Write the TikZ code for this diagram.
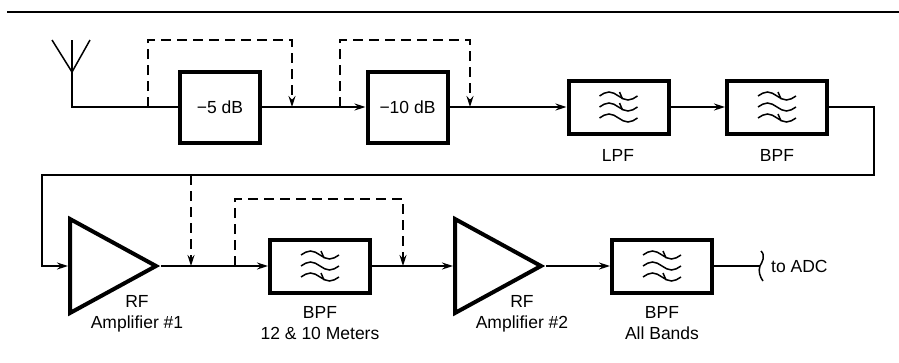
\documentclass[tikz,border=0pt]{standalone}
\usepackage{fontspec}
\setmainfont{Liberation Sans}
\usetikzlibrary{arrows.meta,calc,shapes.geometric}

\tikzset{
  wire/.style={line width=1.5pt},
  feed/.style={wire,-{Stealth[length=11pt,width=7pt]}},
  bypass/.style={wire,dash pattern=on 10pt off 6pt,-{Stealth[length=11pt,width=7pt]}},
  pad/.style={draw,line width=4pt,minimum width=80pt,minimum height=71pt,inner sep=0pt},
  filt/.style={draw,line width=4pt,minimum width=100pt,minimum height=53pt,inner sep=0pt},
  amp/.style={draw,line width=4pt,isosceles triangle,isosceles triangle stretches,
    shape border rotate=0,minimum width=94pt,minimum height=86pt,inner sep=0pt,anchor=lower side},
  lbl/.style={align=center,inner sep=0pt}
}

% three waves in a filter box, ticks on two of them
\newcommand{\filtsym}[3]{%
  \foreach \dy in {-11,0,11}
    \draw[wire] ($(#1)+(-19,\dy)$) sin ++(9.5,-4) cos ++(9.5,4) sin ++(9.5,4) cos ++(9.5,-4);
  \foreach \dy in {#2,#3}
    \draw[wire] ($(#1)+(1,\dy-4)$) -- ++(3,7);
}

\begin{document}
\begin{tikzpicture}[x=1pt,y=-1pt,font=\fontsize{17.5}{21.5}\selectfont]
\useasboundingbox (0,0) rectangle (899,362);
\draw[line width=2pt] (7,12) -- (899,12);

% top row
\node[pad] (pad5) at (220,107) {−5 dB};
\node[pad] (pad10) at (407.5,107) {−10 dB};
\node[filt] (lpf) at (618.5,107) {};
\node[filt] (bpf) at (777,107) {};
\node[lbl] (lpftxt) at (618,155) {LPF};
\node[lbl] (bpftxt) at (777,155) {BPF};
\filtsym{lpf}{-11}{0}
\filtsym{bpf}{-11}{11}

% antenna
\coordinate (ant) at (72,40);
\draw[wire] (52,40) -- (72,72) -- (90,40);
\draw[wire] (ant) |- (pad5.west);

\coordinate (tap1) at (148,107);
\coordinate (join1) at (292,107);
\coordinate (tap2) at (340,107);
\coordinate (join2) at (470,107);
\draw[bypass] (tap1) -- ++(0,-67) -| (join1);
\draw[bypass] (tap2) -- ++(0,-67) -| (join2);
\draw[feed] (pad5.east) -- (pad10.west);
\draw[feed] (pad10.east) -- (lpf.west);
\draw[feed] (lpf.east) -- (bpf.west);

% bottom row
\node[amp] (amp1) at (68,266) {};
\node[amp] (amp2) at (453,266) {};
\node[filt] (bpf1) at (320,266) {};
\node[filt] (bpfa) at (662,266) {};
\filtsym{bpf1}{-11}{11}
\filtsym{bpfa}{-11}{11}
\node[lbl] (amp1txt) at (137,314) {RF\\Amplifier \#1};
\node[lbl] (amp2txt) at (522,314) {RF\\Amplifier \#2};
\node[lbl] (bpf1txt) at (320,323) {BPF\\12 \& 10 Meters};
\node[lbl] (bpfatxt) at (662,323) {BPF\\All Bands};
\node[anchor=west,inner sep=0pt] (adc) at (771,266) {to ADC};

\draw[feed] (bpf.east) -| (874,175) -| (42,266) -- (amp1.lower side);
\coordinate (tap3) at (191,175);
\coordinate (join3) at (191,266);
\draw[bypass] (tap3) -- (join3);
\coordinate (tap4) at (235,266);
\coordinate (join4) at (403,266);
\draw[bypass] (tap4) -- ++(0,-67) -| (join4);
\draw[feed] (amp1.apex) -- (bpf1.west);
\draw[feed] (bpf1.east) -- (amp2.lower side);
\draw[feed] (amp2.apex) -- (bpfa.west);

% break to the converter
\coordinate (brk) at (760,266);
\draw[wire] (bpfa.east) -- (brk);
\draw[wire] (761,251) .. controls (766,256) and (762,262) .. (brk)
  .. controls (758,271) and (760,277) .. (763,281);
\end{tikzpicture}
\end{document}
